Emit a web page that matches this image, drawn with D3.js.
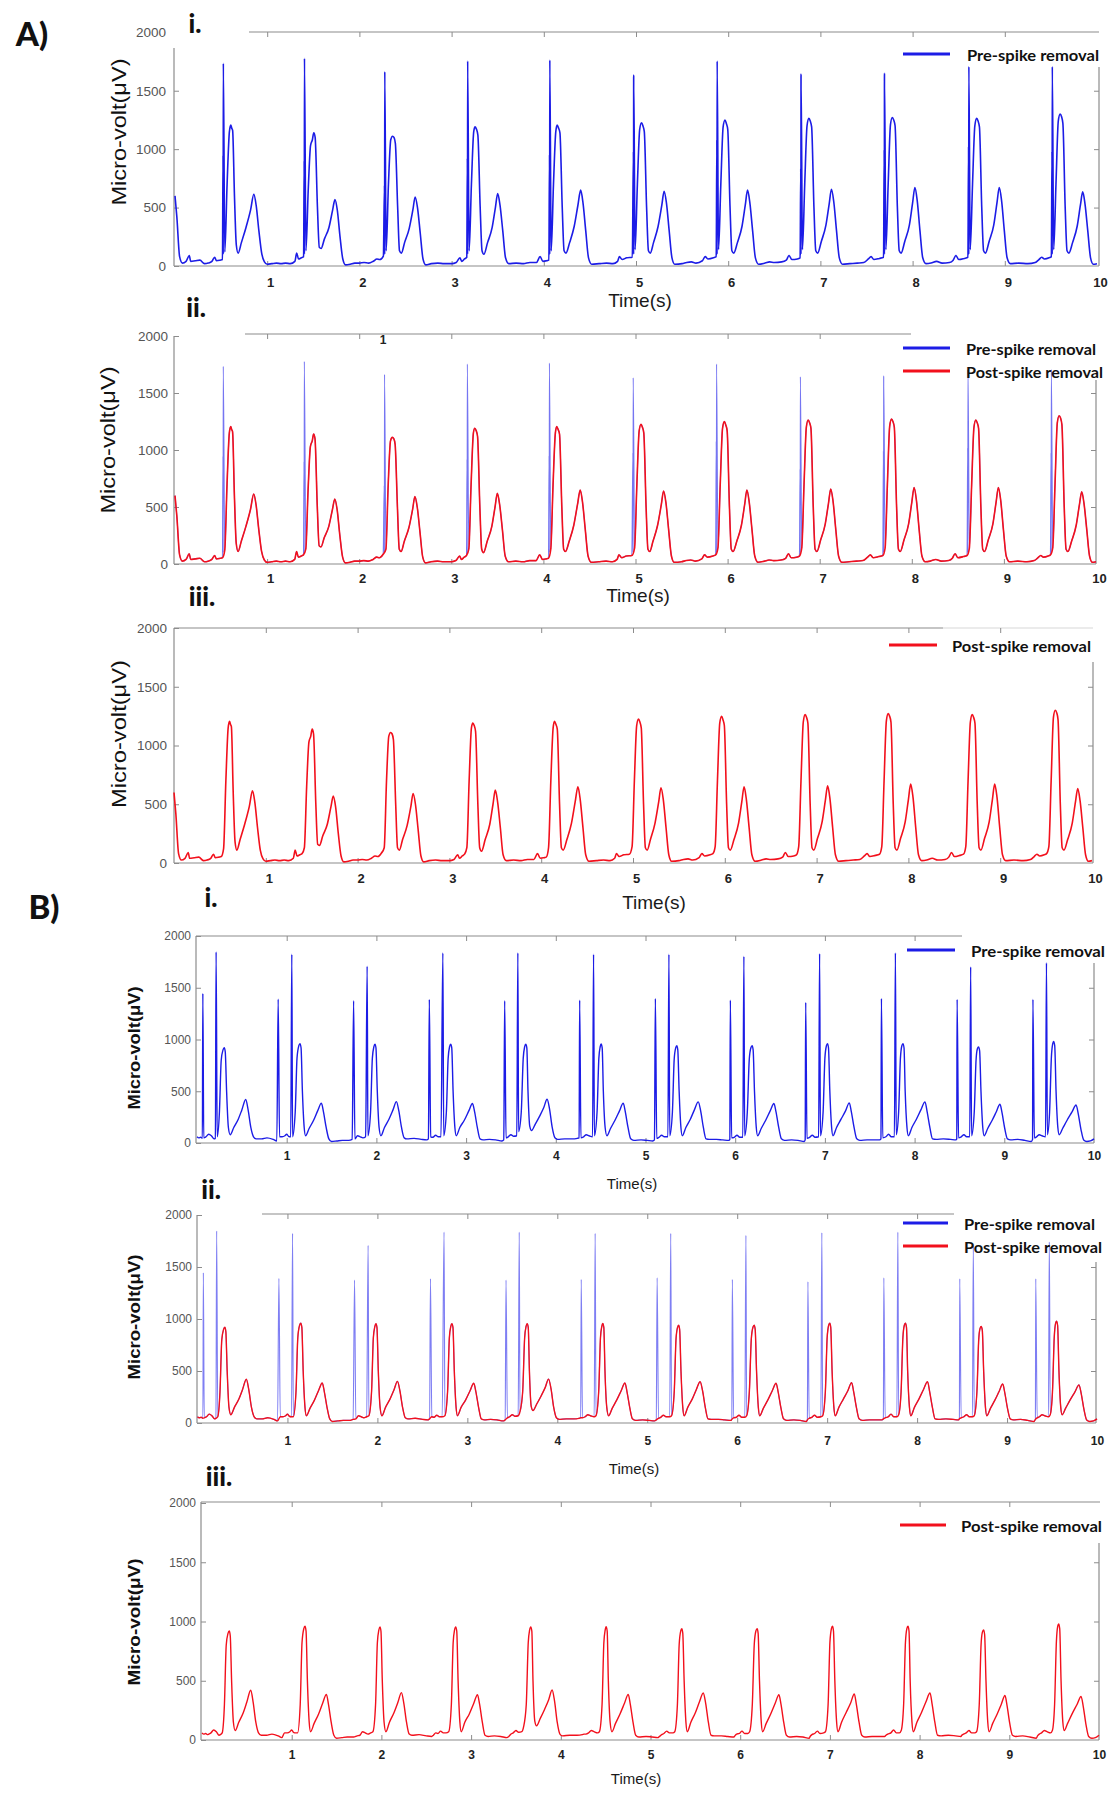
<!DOCTYPE html>
<html><head><meta charset="utf-8">
<script src="https://cdn.jsdelivr.net/npm/d3@7/dist/d3.min.js"></script>
<style>body{margin:0;background:#fff}</style>
</head><body><svg id="c" width="1109" height="1800"></svg>
<script>
// ---------------- DATA ----------------
const yTicks = [0, 500, 1000, 1500, 2000];
const xTicks = [1, 2, 3, 4, 5, 6, 7, 8, 9, 10];
const legendPre = "Pre-spike removal";
const legendPost = "Post-spike removal";
const yTitle = "Micro-volt(\u03bcV)";
const xTitle = "Time(s)";

// Recording A : signal after spike removal [time s, µV]
const aPost = [
[0,600],[0.02,420],[0.05,80],[0.08,25],[0.12,40],[0.155,90],[0.17,40],[0.22,45],[0.27,50],[0.32,20],[0.36,25],[0.40,40],[0.43,75],[0.45,45],[0.49,50],[0.515,55],
[0.54,120],[0.565,700],[0.59,1150],[0.605,1206],[0.615,1180],[0.625,1160],[0.645,600],[0.665,180],[0.685,110],[0.72,200],[0.77,330],[0.82,480],[0.855,614],[0.88,520],[0.91,300],[0.94,110],[0.97,35],[1.0,15],[1.05,20],[1.1,25],[1.15,20],[1.2,25],[1.25,20],[1.3,40],[1.32,110],[1.34,60],[1.37,70],[1.395,80],
[1.42,130],[1.445,650],[1.47,1030],[1.49,1080],[1.505,1140],[1.52,1100],[1.545,500],[1.565,160],[1.585,150],[1.62,230],[1.67,330],[1.71,480],[1.735,569],[1.76,480],[1.79,250],[1.82,60],[1.85,10],[1.9,15],[1.95,25],[2.0,25],[2.05,30],[2.1,25],[2.15,40],[2.19,60],[2.22,55],[2.26,85],
[2.29,130],[2.315,700],[2.34,1080],[2.36,1111],[2.375,1100],[2.39,1050],[2.415,500],[2.435,130],[2.455,110],[2.49,200],[2.54,320],[2.58,480],[2.605,591],[2.63,500],[2.66,280],[2.69,60],[2.72,10],[2.78,20],[2.85,25],[2.92,20],[3.0,20],[3.05,30],[3.09,70],[3.11,40],[3.14,60],[3.165,75],
[3.19,130],[3.215,700],[3.24,1150],[3.255,1191],[3.27,1170],[3.285,1120],[3.31,500],[3.33,130],[3.35,100],[3.39,200],[3.44,330],[3.475,500],[3.5,620],[3.525,520],[3.555,300],[3.585,70],[3.62,20],[3.7,25],[3.78,20],[3.85,30],[3.92,30],[3.96,80],[3.99,40],[4.03,45],[4.055,50],
[4.08,130],[4.105,700],[4.13,1150],[4.145,1206],[4.16,1180],[4.175,1140],[4.2,500],[4.22,130],[4.24,110],[4.28,200],[4.33,340],[4.37,520],[4.4,649],[4.425,540],[4.455,300],[4.485,70],[4.52,15],[4.6,20],[4.68,25],[4.75,20],[4.8,40],[4.82,80],[4.85,55],[4.9,70],[4.96,75],
[4.99,140],[5.015,700],[5.04,1170],[5.06,1226],[5.075,1200],[5.09,1150],[5.115,500],[5.135,130],[5.155,110],[5.19,200],[5.24,340],[5.28,520],[5.305,640],[5.33,540],[5.36,300],[5.39,70],[5.42,15],[5.5,20],[5.55,30],[5.6,35],[5.65,25],[5.72,45],[5.75,80],[5.78,60],[5.84,70],[5.87,80],
[5.895,140],[5.92,700],[5.945,1190],[5.965,1249],[5.98,1220],[5.995,1170],[6.02,500],[6.04,130],[6.06,110],[6.1,200],[6.15,340],[6.185,520],[6.21,649],[6.235,540],[6.265,300],[6.295,70],[6.33,15],[6.4,25],[6.45,35],[6.5,30],[6.58,35],[6.63,50],[6.66,90],[6.69,55],[6.75,60],[6.78,70],
[6.805,140],[6.83,700],[6.855,1200],[6.875,1263],[6.89,1240],[6.905,1190],[6.93,500],[6.95,130],[6.97,110],[7.01,210],[7.06,350],[7.095,530],[7.12,657],[7.145,550],[7.175,300],[7.205,70],[7.24,15],[7.32,20],[7.4,25],[7.47,30],[7.52,60],[7.55,80],[7.58,55],[7.64,65],[7.685,75],
[7.71,140],[7.735,700],[7.76,1210],[7.78,1271],[7.795,1250],[7.81,1200],[7.835,500],[7.855,130],[7.875,110],[7.915,210],[7.965,350],[8.0,540],[8.025,671],[8.05,560],[8.08,300],[8.11,70],[8.145,20],[8.2,25],[8.26,40],[8.32,25],[8.4,30],[8.44,50],[8.47,90],[8.5,55],[8.56,65],[8.6,75],
[8.625,140],[8.65,700],[8.675,1200],[8.695,1263],[8.71,1240],[8.725,1190],[8.75,500],[8.77,130],[8.79,110],[8.83,210],[8.88,350],[8.915,540],[8.94,671],[8.965,560],[8.995,300],[9.025,70],[9.06,20],[9.15,25],[9.25,20],[9.33,30],[9.37,55],[9.4,75],[9.43,60],[9.48,70],[9.505,80],
[9.53,140],[9.555,700],[9.58,1240],[9.6,1300],[9.615,1280],[9.63,1220],[9.655,500],[9.675,130],[9.695,110],[9.735,200],[9.785,340],[9.82,520],[9.845,634],[9.87,530],[9.9,300],[9.93,70],[9.96,15],[10.0,20]
];
// Recording A : stimulation spikes (removed)
const aSpikeTimes   = [0.524, 1.404, 2.275, 3.174, 4.065, 4.975, 5.88, 6.79, 7.695, 8.61, 9.515];
const aSpikeHeights = [1734, 1777, 1663, 1754, 1763, 1634, 1754, 1643, 1649, 1706, 1706];
const aSpikeMid     = [945, 900, 690, 920, 950, 977, 1077, 834, 991, 1020, 977];

// Recording B : signal after spike removal [time s, µV]
const bPost = [
[0,60],[0.02,50],[0.04,55],[0.06,45],[0.075,50],[0.1,60],[0.13,85],[0.16,70],[0.19,40],[0.205,45],
[0.225,60],[0.25,300],[0.27,800],[0.29,900],[0.304,920],[0.315,880],[0.33,500],[0.35,150],[0.37,80],[0.41,150],[0.46,230],[0.5,320],[0.543,420],[0.57,320],[0.6,150],[0.63,60],[0.66,40],[0.72,40],[0.78,50],[0.85,35],[0.89,20],
[0.92,60],[0.95,60],[0.98,70],[1.0,85],[1.02,65],[1.045,60],
[1.065,60],[1.095,300],[1.115,820],[1.135,940],[1.148,960],[1.16,920],[1.175,500],[1.195,150],[1.21,70],[1.25,140],[1.3,220],[1.345,310],[1.387,385],[1.41,300],[1.44,150],[1.47,40],[1.5,15],[1.56,20],[1.62,25],[1.69,25],[1.73,35],
[1.76,40],[1.79,70],[1.82,60],[1.85,50],[1.88,60],
[1.905,70],[1.935,300],[1.955,820],[1.972,930],[1.984,955],[1.995,920],[2.01,500],[2.03,150],[2.05,70],[2.09,150],[2.14,230],[2.185,320],[2.223,400],[2.25,310],[2.28,150],[2.31,50],[2.34,40],[2.42,45],[2.5,35],[2.56,30],[2.58,40],
[2.605,60],[2.63,55],[2.66,75],[2.69,60],[2.72,60],
[2.75,70],[2.78,300],[2.8,820],[2.816,930],[2.828,955],[2.84,920],[2.855,500],[2.875,150],[2.89,70],[2.93,150],[2.98,220],[3.03,310],[3.071,382],[3.095,300],[3.125,150],[3.155,40],[3.19,30],[3.26,35],[3.33,30],[3.4,20],[3.42,30],
[3.445,50],[3.47,60],[3.5,80],[3.53,65],[3.565,70],
[3.585,110],[3.615,300],[3.637,820],[3.653,930],[3.665,955],[3.677,920],[3.69,500],[3.71,160],[3.73,120],[3.77,180],[3.82,260],[3.865,340],[3.903,422],[3.93,330],[3.96,150],[3.99,50],[4.02,35],[4.1,40],[4.18,40],[4.24,45],[4.26,50],
[4.28,50],[4.31,60],[4.34,80],[4.37,70],[4.41,60],
[4.43,70],[4.46,300],[4.48,820],[4.495,930],[4.505,957],[4.517,920],[4.53,500],[4.55,150],[4.57,70],[4.61,140],[4.66,220],[4.71,310],[4.752,385],[4.775,300],[4.805,150],[4.835,40],[4.87,25],[4.95,30],[5.02,25],[5.08,20],[5.1,30],
[5.125,45],[5.15,55],[5.18,75],[5.21,60],[5.25,60],
[5.27,70],[5.3,300],[5.32,810],[5.337,920],[5.349,940],[5.36,900],[5.375,500],[5.395,150],[5.41,70],[5.45,150],[5.5,230],[5.545,320],[5.588,397],[5.615,310],[5.645,150],[5.675,40],[5.71,35],[5.79,35],[5.86,30],[5.93,25],[5.94,35],
[5.96,50],[5.99,55],[6.02,75],[6.05,55],[6.085,55],
[6.105,70],[6.135,300],[6.157,810],[6.175,920],[6.189,940],[6.2,900],[6.215,500],[6.235,150],[6.25,70],[6.29,140],[6.34,220],[6.39,310],[6.432,382],[6.455,300],[6.485,150],[6.515,40],[6.55,25],[6.63,30],[6.7,25],[6.77,15],[6.78,30],
[6.8,45],[6.83,55],[6.86,75],[6.89,55],[6.93,60],
[6.95,70],[6.98,300],[7.0,820],[7.017,940],[7.029,960],[7.04,920],[7.055,500],[7.075,150],[7.09,70],[7.13,150],[7.18,230],[7.23,310],[7.272,388],[7.295,300],[7.325,150],[7.355,40],[7.39,25],[7.47,30],[7.54,30],[7.61,30],[7.625,40],
[7.645,50],[7.68,60],[7.71,85],[7.74,60],[7.775,60],
[7.795,80],[7.822,300],[7.842,820],[7.858,940],[7.87,960],[7.882,920],[7.895,500],[7.915,150],[7.93,70],[7.97,150],[8.02,230],[8.07,320],[8.116,397],[8.14,300],[8.17,150],[8.2,40],[8.24,35],[8.32,40],[8.4,35],[8.46,30],[8.47,40],
[8.49,50],[8.52,60],[8.55,80],[8.58,60],[8.615,60],
[8.635,70],[8.665,300],[8.685,800],[8.7,910],[8.713,928],[8.725,890],[8.74,500],[8.76,150],[8.775,70],[8.815,140],[8.865,220],[8.91,300],[8.952,375],[8.975,290],[9.005,140],[9.035,40],[9.07,30],[9.15,35],[9.23,25],[9.3,15],[9.315,35],
[9.335,50],[9.36,60],[9.39,80],[9.42,70],[9.46,60],
[9.48,80],[9.505,300],[9.525,830],[9.54,960],[9.55,980],[9.562,940],[9.577,500],[9.597,150],[9.612,80],[9.65,140],[9.7,220],[9.755,300],[9.8,367],[9.825,280],[9.855,130],[9.885,30],[9.92,15],[9.96,20],[10,40]
];
// Recording B : two stimulation spikes per beat (removed)
const bSpike1Times   = [0.065, 0.905, 1.746, 2.59, 3.43, 4.266, 5.11, 5.946, 6.786, 7.63, 8.474, 9.319];
const bSpike1Heights = [1445, 1390, 1374, 1387, 1374, 1380, 1396, 1380, 1358, 1396, 1387, 1387];
const bSpike2Times   = [0.213, 1.057, 1.897, 2.741, 3.577, 4.421, 5.261, 6.097, 6.941, 7.786, 8.625, 9.47];
const bSpike2Heights = [1846, 1823, 1708, 1836, 1836, 1823, 1823, 1804, 1830, 1836, 1702, 1741];

// ---------------- BUILD SERIES ----------------
const aPre = aPost.concat(
  aSpikeTimes.flatMap((t, i) => [[t - 0.003, aSpikeMid[i]], [t - 0.0015, 100], [t, aSpikeHeights[i]]])
).sort((p, q) => p[0] - q[0]);
const bPre = bPost.concat(
  bSpike1Times.map((t, i) => [t, bSpike1Heights[i]]),
  bSpike2Times.map((t, i) => [t, bSpike2Heights[i]])
).sort((p, q) => p[0] - q[0]);

// ---------------- DRAW ----------------
const BLUE = "#1c1ce6", BLUE_LIGHT = "#4747ee", RED = "#f2101c", AX = "#8c8c8c";
const svg = d3.select("#c");
svg.append("rect").attr("width", 1109).attr("height", 1800).attr("fill", "#fff");
const fmt = d3.format("d");

function panel(o) {
  const g = svg.append("g");
  const x = d3.scaleLinear().domain([0, 10]).range(o.xr);
  const y = d3.scaleLinear().domain([0, 2000]).range([o.y0, o.y2k]);
  const y0 = y(0);

  const line = (x1, y1, x2, y2, c, w) => g.append("line").attr("x1", x1).attr("y1", y1).attr("x2", x2).attr("y2", y2)
      .attr("stroke", c || AX).attr("stroke-width", w || 1.2);
  line(o.leftX, o.leftTop, o.leftX, y0);
  line(o.leftX, y0, o.rightX, y0);
  line(o.topL, o.topY, o.topR, o.topY);
  if (o.topFaintR) line(o.topR, o.topY, o.topFaintR, o.topY, "#d8d8d8", 1.2);
  line(o.rightX, o.rightTop, o.rightX, y0);

  const ya = g.append("g").attr("transform", `translate(${o.leftX},0)`)
    .call(d3.axisLeft(y).tickValues(yTicks).tickFormat(fmt).tickSizeInner(-5).tickSizeOuter(0).tickPadding(o.yPad));
  ya.select(".domain").remove();
  ya.selectAll(".tick line").attr("stroke", AX).filter(d => y(d) < o.leftTop - 1).remove();
  ya.selectAll(".tick text").attr("fill", "#555").attr("font-family", "'Liberation Sans', Arial, sans-serif")
    .attr("font-size", o.yFont);

  const ra = g.append("g").attr("transform", `translate(${o.rightX},0)`)
    .call(d3.axisRight(y).tickValues(yTicks.filter(v => v > 0 && y(v) > o.rightTop + 2)).tickSizeInner(-5).tickSizeOuter(0).tickFormat(""));
  ra.select(".domain").remove();
  ra.selectAll(".tick line").attr("stroke", AX);

  const xa = g.append("g").attr("transform", `translate(0,${y0})`)
    .call(d3.axisBottom(x).tickValues(xTicks).tickFormat(fmt).tickSizeInner(-5).tickSizeOuter(0).tickPadding(o.xPad));
  xa.select(".domain").remove();
  xa.selectAll(".tick line").attr("stroke", AX).filter(d => d === 10).remove();
  xa.selectAll(".tick text").attr("fill", "#222").attr("font-family", "'Liberation Sans', Arial, sans-serif")
    .attr("font-weight", "bold").attr("font-size", o.xFont).attr("dx", o.xDx);

  const ta = g.append("g").attr("transform", `translate(0,${o.topY})`)
    .call(d3.axisTop(x).tickValues(xTicks.filter(t => x(t) > o.topL + 2 && x(t) < (o.topFaintR || o.topR) - 3)).tickSizeInner(-5).tickSizeOuter(0).tickFormat(""));
  ta.select(".domain").remove();
  ta.selectAll(".tick line").attr("stroke", AX);

  const path = d3.line().x(d => x(d[0])).y(d => y(d[1])).curve(d3.curveMonotoneX);
  o.series.forEach(s => {
    g.append("path").datum(s.data).attr("d", path).attr("fill", "none")
      .attr("stroke", s.color).attr("stroke-width", s.width).attr("stroke-opacity", s.opacity || 1)
      .attr("stroke-linejoin", "round");
  });

  o.legend.forEach(l => {
    line(o.legLine[0], l.y, o.legLine[1], l.y, l.color, 3);
    g.append("text").attr("x", o.legText).attr("y", l.y).attr("dominant-baseline", "central")
      .attr("font-family", "Lato, 'Open Sans', sans-serif").attr("font-weight", "bold").attr("font-size", 16)
      .attr("fill", "#111").attr("textLength", l.w).attr("lengthAdjust", "spacingAndGlyphs").text(l.text);
  });

  g.append("text").attr("x", o.timeX).attr("y", o.timeY).attr("text-anchor", "middle").attr("dominant-baseline", "central")
    .attr("font-family", "'Liberation Sans', Arial, sans-serif").attr("font-size", o.timeFont).attr("fill", "#1a1a1a")
    .text(xTitle);
  g.append("text").attr("transform", `translate(${o.titleX},${o.titleY}) rotate(-90)`).attr("text-anchor", "middle")
    .attr("dominant-baseline", "central").attr("font-family", "'Liberation Sans', Arial, sans-serif")
    .attr("font-size", o.titleFont).attr("font-weight", o.titleBold ? "bold" : "normal").attr("fill", "#111")
    .attr("textLength", o.titleLen).attr("lengthAdjust", "spacingAndGlyphs").text(yTitle);
  return g;
}

const preA = {text: legendPre, color: BLUE}, postA = {text: legendPost, color: RED};

panel({xr: [175, 1097], y0: 266, y2k: 32.3, leftX: 174, leftTop: 48, rightX: 1099, rightTop: 67,
  topY: 32, topL: 249, topR: 1099, yPad: 8, yFont: 13.5, xPad: 12, xFont: 13, xDx: 3,
  series: [{data: aPre, color: BLUE, width: 1.6}],
  legLine: [903, 950], legText: 967, legend: [{...preA, y: 54, w: 132}],
  timeX: 640, timeY: 300, timeFont: 19, titleX: 118, titleY: 132, titleFont: 21, titleLen: 147});

panel({xr: [175, 1096], y0: 564, y2k: 336, leftX: 174, leftTop: 336, rightX: 1096, rightTop: 380,
  topY: 334, topL: 245, topR: 911, yPad: 6, yFont: 13.5, xPad: 9.5, xFont: 13, xDx: 3,
  series: [{data: aPre, color: BLUE_LIGHT, width: 1.1, opacity: 0.75}, {data: aPost, color: RED, width: 1.6}],
  legLine: [903, 950], legText: 966, legend: [{...preA, y: 348, w: 130}, {...postA, y: 371, w: 137}],
  timeX: 638, timeY: 595, timeFont: 19, titleX: 107, titleY: 440, titleFont: 21, titleLen: 147});

panel({xr: [174, 1092], y0: 863, y2k: 628, leftX: 174, leftTop: 628, rightX: 1093, rightTop: 662,
  topY: 628, topL: 174, topR: 943, topFaintR: 1093, yPad: 7, yFont: 13.5, xPad: 10.5, xFont: 13, xDx: 3,
  series: [{data: aPost, color: RED, width: 1.6}],
  legLine: [889, 937], legText: 952, legend: [{...postA, y: 645, w: 139}],
  timeX: 654, timeY: 902, timeFont: 19, titleX: 118, titleY: 734, titleFont: 21, titleLen: 148});

panel({xr: [197, 1094], y0: 1143, y2k: 936, leftX: 196, leftTop: 936, rightX: 1094, rightTop: 963,
  topY: 936, topL: 196, topR: 962, yPad: 5, yFont: 12, xPad: 8.5, xFont: 12, xDx: 0,
  series: [{data: bPre, color: BLUE, width: 1.4}],
  legLine: [907, 955], legText: 971, legend: [{...preA, y: 950, w: 134}],
  timeX: 632, timeY: 1183, timeFont: 15, titleX: 134, titleY: 1048, titleFont: 17, titleBold: true, titleLen: 123});

panel({xr: [197.5, 1097], y0: 1423, y2k: 1215, leftX: 197, leftTop: 1215, rightX: 1096, rightTop: 1262,
  topY: 1214, topL: 262, topR: 954, yPad: 5, yFont: 12, xPad: 13.5, xFont: 12, xDx: 0,
  series: [{data: bPre, color: BLUE_LIGHT, width: 1.1, opacity: 0.7}, {data: bPost, color: RED, width: 1.4}],
  legLine: [903, 948], legText: 964, legend: [{...preA, y: 1223, w: 131}, {...postA, y: 1246, w: 138}],
  timeX: 634, timeY: 1468, timeFont: 15, titleX: 134, titleY: 1317, titleFont: 17, titleBold: true, titleLen: 125});

panel({xr: [202, 1099], y0: 1740, y2k: 1503, leftX: 201, leftTop: 1502, rightX: 1099, rightTop: 1543,
  topY: 1502, topL: 201, topR: 1100, yPad: 5, yFont: 12, xPad: 10.5, xFont: 12, xDx: 0,
  series: [{data: bPost, color: RED, width: 1.4}],
  legLine: [900, 946], legText: 961, legend: [{...postA, y: 1525, w: 141}],
  timeX: 636, timeY: 1778, timeFont: 15, titleX: 134, titleY: 1622, titleFont: 17, titleBold: true, titleLen: 127});

svg.append("text").attr("x", 383).attr("y", 340).attr("text-anchor", "middle").attr("dominant-baseline", "central")
  .attr("font-family", "'Liberation Sans', Arial, sans-serif").attr("font-weight", "bold").attr("font-size", 12)
  .attr("fill", "#222").text("1");

const labels = [
  {t: "A)", x: 32, y: 33, s: 33}, {t: "i.", x: 195, y: 23, s: 26}, {t: "ii.", x: 196, y: 307, s: 26}, {t: "iii.", x: 202, y: 596, s: 26},
  {t: "B)", x: 44, y: 906, s: 33}, {t: "i.", x: 211, y: 897, s: 26}, {t: "ii.", x: 211, y: 1189, s: 26}, {t: "iii.", x: 219, y: 1476, s: 26}
];
svg.selectAll("text.lab").data(labels).enter().append("text").attr("class", "lab")
  .attr("x", d => d.x).attr("y", d => d.y).attr("text-anchor", "middle").attr("dominant-baseline", "central")
  .attr("font-family", "Lato, 'Open Sans', sans-serif").attr("font-weight", "900").attr("font-size", d => d.s)
  .attr("fill", "#111").text(d => d.t);
</script>
</body></html>
